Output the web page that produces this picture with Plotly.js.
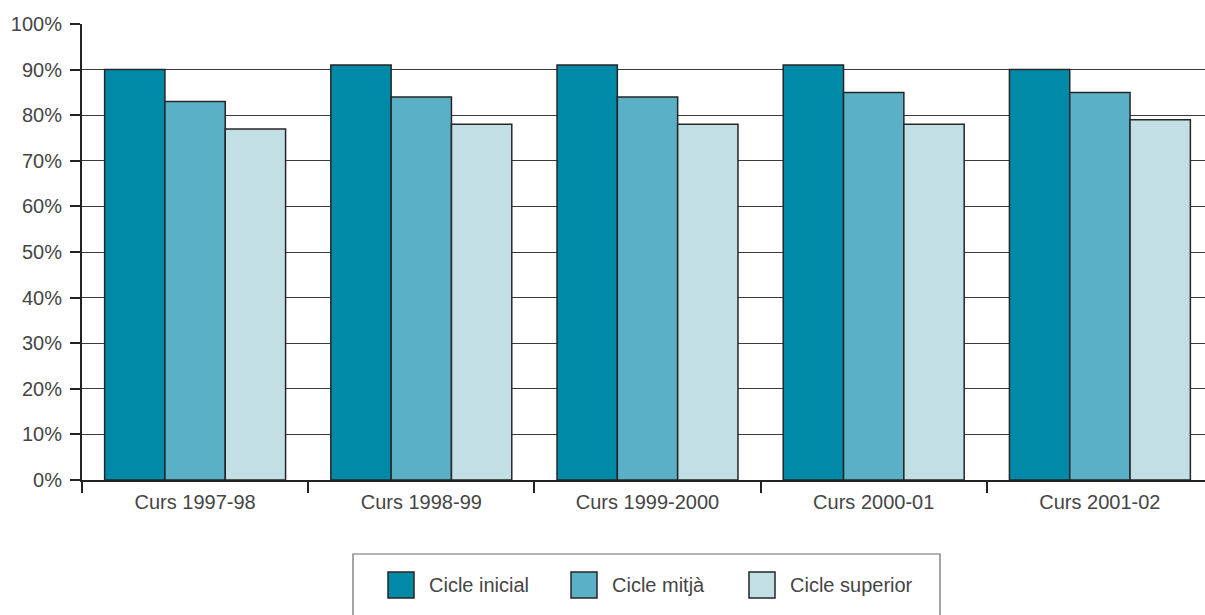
<!DOCTYPE html>
<html><head><meta charset="utf-8">
<script src="https://cdn.plot.ly/plotly-3.0.1.min.js"></script>
<style>
html,body{margin:0;padding:0;background:#fff;}
#chart{width:1205px;height:615px;}
</style>
</head><body>
<div id="chart"></div>
<script>
const categories = ["Curs 1997-98","Curs 1998-99","Curs 1999-2000","Curs 2000-01","Curs 2001-02"];
const seriesNames = ["Cicle inicial","Cicle mitjà","Cicle superior"];
const cicleInicial = [90, 91, 91, 91, 90];
const cicleMitja = [83, 84, 84, 85, 85];
const cicleSuperior = [77, 78, 78, 78, 79];
const yTicks = [0,10,20,30,40,50,60,70,80,90,100];
const yTickText = yTicks.map(v => v + "%");

const colors = ["#018aa7","#5ab0c7","#c3dfe6"];
const FONT = "Liberation Sans, Arial, sans-serif";
const TXT = "#454545";

// plot-area geometry (pixels)
const W = 1205, H = 615, ML = 82, MR = 0, MT = 24, MB = 135;
const PW = W - ML - MR, PH = H - MT - MB;
const px2x = px => (px - ML) / PW;
const py2y = py => (H - MB - py) / PH;

const seriesValues = [cicleInicial, cicleMitja, cicleSuperior];
const traces = seriesValues.map((vals, i) => ({
  type: "bar",
  name: seriesNames[i],
  x: categories,
  y: vals,
  marker: {color: colors[i], line: {color: "#262626", width: 1.5}},
  showlegend: false
}));

// custom legend (box + swatches + labels), positioned in pixels
const legendBox = {x0: 353, x1: 940, y0: 554, y1: 640};
const swatchX = [388, 571, 749];
const swatchSize = 26, swatchY0 = 572, textGap = 13;
const shapes = [{
  type: "rect", xref: "paper", yref: "paper",
  x0: px2x(legendBox.x0), x1: px2x(legendBox.x1),
  y0: py2y(legendBox.y0), y1: py2y(legendBox.y1),
  line: {color: "#6a6a6a", width: 1.2}, fillcolor: "rgba(0,0,0,0)", layer: "above"
}];
const annotations = [];
seriesNames.forEach((name, i) => {
  shapes.push({
    type: "rect", xref: "paper", yref: "paper",
    x0: px2x(swatchX[i]), x1: px2x(swatchX[i] + swatchSize),
    y0: py2y(swatchY0), y1: py2y(swatchY0 + swatchSize),
    line: {color: "#262626", width: 1.5}, fillcolor: colors[i], layer: "above"
  });
  annotations.push({
    xref: "paper", yref: "paper",
    x: px2x(swatchX[i] + swatchSize + textGap), y: py2y(swatchY0 + swatchSize / 2),
    xanchor: "left", yanchor: "middle", showarrow: false,
    text: name, font: {family: FONT, size: 20, color: TXT}
  });
});

const layout = {
  width: W, height: H,
  margin: {l: ML, r: MR, t: MT, b: MB},
  paper_bgcolor: "#fff", plot_bgcolor: "#fff",
  font: {family: FONT, size: 20, color: TXT},
  barmode: "group",
  bargap: 0.2, bargroupgap: 0,
  xaxis: {
    type: "category",
    range: [-0.5, 4.5 - (ML + 1131 - W) / 226.2],
    tickson: "boundaries",
    ticks: "outside", ticklen: 11, tickwidth: 2, tickcolor: "#222",
    ticklabelstandoff: 3,
    showline: true, linecolor: "#222", linewidth: 2,
    showgrid: false,
    tickfont: {family: FONT, size: 20, color: TXT}
  },
  yaxis: {
    range: [0, 100],
    tickmode: "array",
    tickvals: yTicks,
    ticktext: yTickText,
    ticks: "outside", ticklen: 10, tickwidth: 2, tickcolor: "#222",
    ticklabelstandoff: 4,
    showline: true, linecolor: "#222", linewidth: 2,
    showgrid: true, gridcolor: "#3a3a3a", gridwidth: 1,
    zeroline: false,
    tickfont: {family: FONT, size: 20, color: TXT}
  },
  showlegend: false,
  shapes: shapes,
  annotations: annotations
};

Plotly.newPlot("chart", traces, layout, {displayModeBar: false, staticPlot: true});
</script>
</body></html>
